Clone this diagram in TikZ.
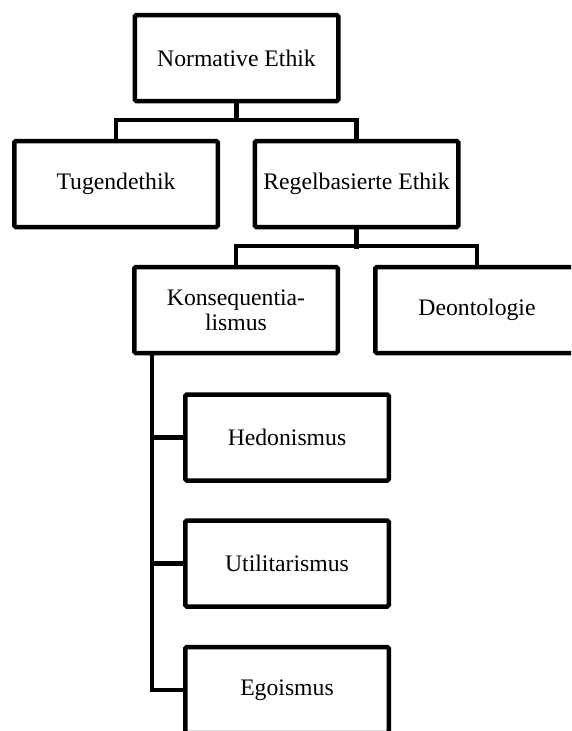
\documentclass[tikz,border=0pt]{standalone}
\usepackage{fontspec}
\setmainfont{Liberation Serif}
\begin{document}
\begin{tikzpicture}[x=1pt,y=-1pt,
  box/.style={draw, line width=4.5pt, rounded corners=1.5pt,
    minimum width=203.5pt, minimum height=86pt, inner sep=0pt,
    align=center, font=\fontsize{23.7}{25}\selectfont},
  link/.style={line width=4.5pt}]
\useasboundingbox (0,0) rectangle (571,731);
\clip (0,0) rectangle (571,731);

% boxes
\node[box] (norm)  at (236.5,58)  {Normative Ethik};
\node[box] (tug)   at (116,184)   {Tugendethik};
\node[box] (regel) at (356.5,184) {Regelbasierte Ethik};
\node[box] (kons)  at (236,310)   {Konsequentia-\\lismus};
\node[box] (deon)  at (477,310)   {Deontologie};
\node[box] (hed)   at (287,437.5) {Hedonismus};
\node[box] (util)  at (287,563.5) {Utilitarismus};
\node[box] (ego)   at (287,690)   {Egoismus};

% first level
\draw[link] (norm.south) -- ++(0,19);
\draw[link] (tug.north) -- ++(0,-19) -| (regel.north);

% second level
\draw[link] (regel.south) -- ++(0,20);
\draw[link] (kons.north) -- ++(0,-19) -| (deon.north);

% list under Konsequentialismus
\coordinate (spine) at ([xshift=20pt]kons.south west);
\draw[link] (spine) |- (ego.west);
\draw[link] (hed.west) -- (hed.west -| spine);
\draw[link] (util.west) -- (util.west -| spine);
\end{tikzpicture}
\end{document}
